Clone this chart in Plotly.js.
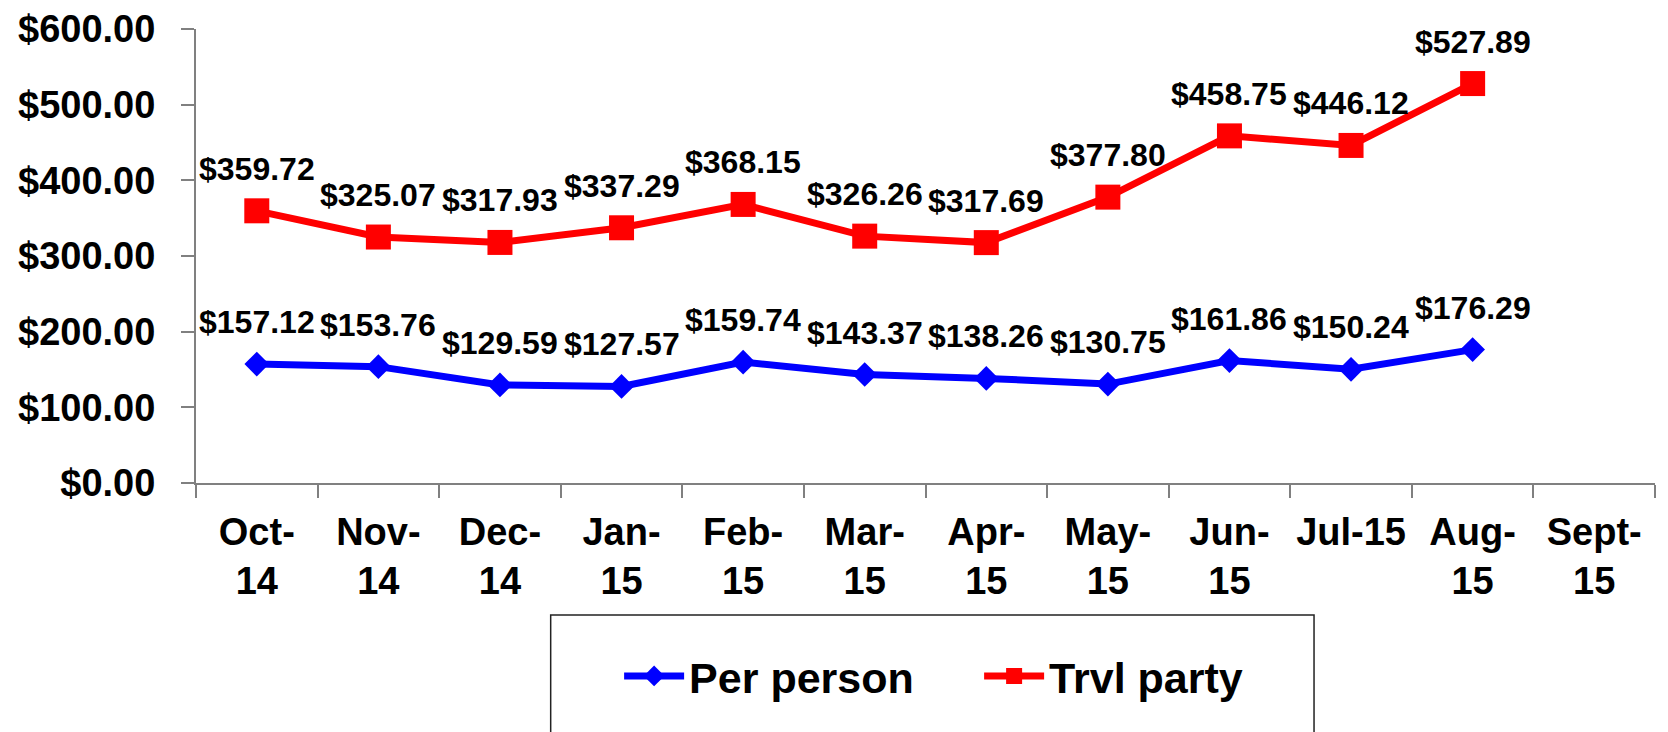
<!DOCTYPE html>
<html>
<head>
<meta charset="utf-8">
<script src="https://cdn.plot.ly/plotly-3.0.1.min.js"></script>
<style>html,body{margin:0;padding:0;background:#fff;}#chart{width:1668px;height:732px;}</style>
</head>
<body>
<div id="chart"></div>
<script>
var months = ['Oct-14','Nov-14','Dec-14','Jan-15','Feb-15','Mar-15','Apr-15','May-15','Jun-15','Jul-15','Aug-15','Sept-15'];
var monthLabels = ['Oct-<br>14','Nov-<br>14','Dec-<br>14','Jan-<br>15','Feb-<br>15','Mar-<br>15','Apr-<br>15','May-<br>15','Jun-<br>15','Jul-15','Aug-<br>15','Sept-<br>15'];
var perPerson = [157.12,153.76,129.59,127.57,159.74,143.37,138.26,130.75,161.86,150.24,176.29];
var trvlParty = [359.72,325.07,317.93,337.29,368.15,326.26,317.69,377.80,458.75,446.12,527.89];
var yTicks = [0,100,200,300,400,500,600];
var yTickLabels = ['$0.00','$100.00','$200.00','$300.00','$400.00','$500.00','$600.00'];

var FONT = 'Liberation Sans, Arial, sans-serif';

function fmt(v) { return '$' + v.toFixed(2); }

var traces = [
  {
    name: 'Per person', type: 'scatter', mode: 'lines+markers',
    x: months.slice(0, perPerson.length), y: perPerson,
    line: {color: '#0000FF', width: 7},
    marker: {symbol: 'diamond', size: 19, color: '#0000FF'},
    cliponaxis: false
  },
  {
    name: 'Trvl party', type: 'scatter', mode: 'lines+markers',
    x: months.slice(0, trvlParty.length), y: trvlParty,
    line: {color: '#FF0000', width: 7},
    marker: {symbol: 'square', size: 25, color: '#FF0000'},
    cliponaxis: false
  }
];

var annotations = [];
[perPerson, trvlParty].forEach(function (series) {
  series.forEach(function (v, i) {
    annotations.push({
      x: months[i], y: v, xref: 'x', yref: 'y',
      text: fmt(v), showarrow: false,
      xanchor: 'center', yanchor: 'middle', yshift: 42,
      font: {family: FONT, size: 32, weight: 'bold', color: '#000'}
    });
  });
});

var layout = {
  width: 1668, height: 732,
  margin: {l: 196, r: 13, t: 29, b: 249},
  paper_bgcolor: '#fff', plot_bgcolor: '#fff',
  font: {family: FONT, color: '#000', weight: 'bold'},
  showlegend: true,
  xaxis: {
    type: 'category', categoryorder: 'array', categoryarray: months,
    tickmode: 'array', tickvals: months, ticktext: monthLabels,
    range: [-0.5, months.length - 0.5],
    tickson: 'boundaries', ticks: 'outside', ticklen: 13, tickwidth: 2, tickcolor: '#808080',
    showline: true, linecolor: '#808080', linewidth: 2,
    showgrid: false, zeroline: false,
    tickfont: {family: FONT, size: 38, weight: 'bold', color: '#000'},
    ticklabelstandoff: 14,
    fixedrange: true
  },
  yaxis: {
    range: [0, 600], tickmode: 'array', tickvals: yTicks, ticktext: yTickLabels,
    ticks: 'outside', ticklen: 13, tickwidth: 2, tickcolor: '#808080',
    showline: true, linecolor: '#808080', linewidth: 2,
    showgrid: false, zeroline: false,
    tickfont: {family: FONT, size: 38, weight: 'bold', color: '#000'},
    ticklabelstandoff: 18,
    fixedrange: true
  },
  legend: {
    orientation: 'h', x: 0.29, xanchor: 'left', y: -0.425, yanchor: 'middle',
    font: {family: FONT, size: 43, weight: 'bold', color: '#000'},
    itemwidth: 60, entrywidth: 285,
    bgcolor: 'rgba(0,0,0,0)', borderwidth: 0
  },
  annotations: annotations,
  shapes: [{
    type: 'rect', xref: 'paper', yref: 'paper',
    x0: 0.2431, x1: 0.7663, y0: -0.291, y1: -0.7,
    line: {color: '#222', width: 1.5}, fillcolor: 'rgba(0,0,0,0)', layer: 'below'
  }]
};

Plotly.newPlot('chart', traces, layout, {staticPlot: true, displayModeBar: false});
</script>
</body>
</html>
